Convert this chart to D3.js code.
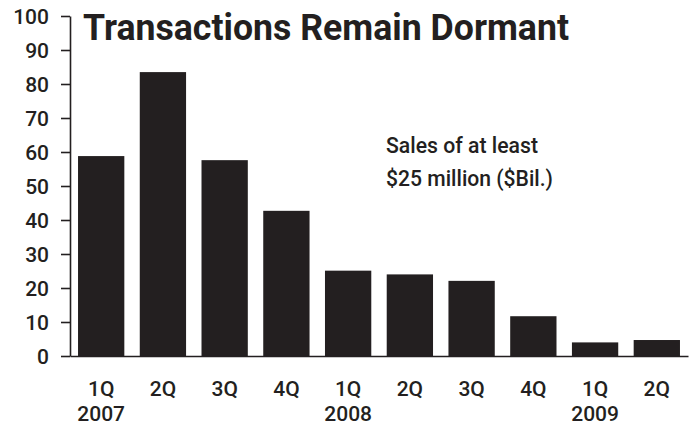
<!DOCTYPE html>
<html lang="en">
  <head>
    <meta charset="UTF-8" />
    <title>Transactions Remain Dormant</title>
    <script src="https://d3js.org/d3.v7.min.js"></script>
    <style>
      body { margin: 0; background: #fff; }
      text { font-family: Roboto, "Liberation Sans", Arial, sans-serif; fill: #231f20; }
      .title { font-size: 36px; font-weight: bold; }
      .tick text { font-size: 21px; font-weight: 500; }
      .note { font-size: 22.5px; font-weight: 500; }
    </style>
  </head>
  <body>
    <svg id="chart" width="694" height="425"></svg>
    <script>
      // Chart data
      const quarters = ["1Q", "2Q", "3Q", "4Q", "1Q", "2Q", "3Q", "4Q", "1Q", "2Q"];
      const years = ["2007", "", "", "", "2008", "", "", "", "2009", ""];
      const sales = [58.8, 83.5, 57.6, 42.7, 25.1, 24.0, 22.1, 11.7, 4.0, 4.7];
      const yTicks = [0, 10, 20, 30, 40, 50, 60, 70, 80, 90, 100];

      const svg = d3.select("#chart");
      const ink = "#231f20";

      const x = d3
        .scaleBand()
        .domain(d3.range(sales.length))
        .range([70, 688])
        .paddingInner(0.25)
        .paddingOuter(0.13);

      const y = d3.scaleLinear().domain([0, 100]).range([356, 16]);

      // Bars
      svg
        .selectAll(".bar")
        .data(sales)
        .enter()
        .append("rect")
        .attr("class", "bar")
        .attr("x", (d, i) => x(i))
        .attr("y", (d) => y(d))
        .attr("width", x.bandwidth())
        .attr("height", (d) => y(0) - y(d))
        .attr("fill", ink);

      // Y axis
      const yAxis = svg
        .append("g")
        .attr("transform", "translate(70,0)")
        .call(
          d3.axisLeft(y).tickValues(yTicks).tickSize(9).tickPadding(12).tickSizeOuter(0)
        );
      yAxis.select(".domain").attr("stroke", ink).attr("stroke-width", 1.6);
      yAxis.selectAll(".tick line").attr("stroke", ink).attr("stroke-width", 1.6);
      yAxis.selectAll(".tick text").attr("dy", "0.36em");

      // X axis baseline with quarter + year labels
      const xAxis = svg
        .append("g")
        .attr("transform", `translate(0,${y(0)})`)
        .call(
          d3
            .axisBottom(x)
            .tickSize(0)
            .tickSizeOuter(0)
            .tickPadding(0)
            .tickFormat((i) => quarters[i])
        );
      xAxis.select(".domain").attr("stroke", ink).attr("stroke-width", 1.6);
      xAxis.selectAll(".tick text").attr("y", 39.5).attr("dy", 0);
      xAxis
        .selectAll(".tick")
        .append("text")
        .attr("y", 65)
        .attr("text-anchor", "middle")
        .text((i) => years[i]);

      // Title
      svg
        .append("text")
        .attr("class", "title")
        .attr("x", 83)
        .attr("y", 39.5)
        .attr("textLength", 486)
        .attr("lengthAdjust", "spacingAndGlyphs")
        .text("Transactions Remain Dormant");

      // Note
      const note = svg.append("text").attr("class", "note").attr("y", 152.5);
      note
        .append("tspan")
        .attr("x", 386)
        .attr("textLength", 152)
        .attr("lengthAdjust", "spacingAndGlyphs")
        .text("Sales of at least");
      note
        .append("tspan")
        .attr("x", 386)
        .attr("dy", 33)
        .attr("textLength", 167)
        .attr("lengthAdjust", "spacingAndGlyphs")
        .text("$25 million ($Bil.)");
    </script>
  </body>
</html>
